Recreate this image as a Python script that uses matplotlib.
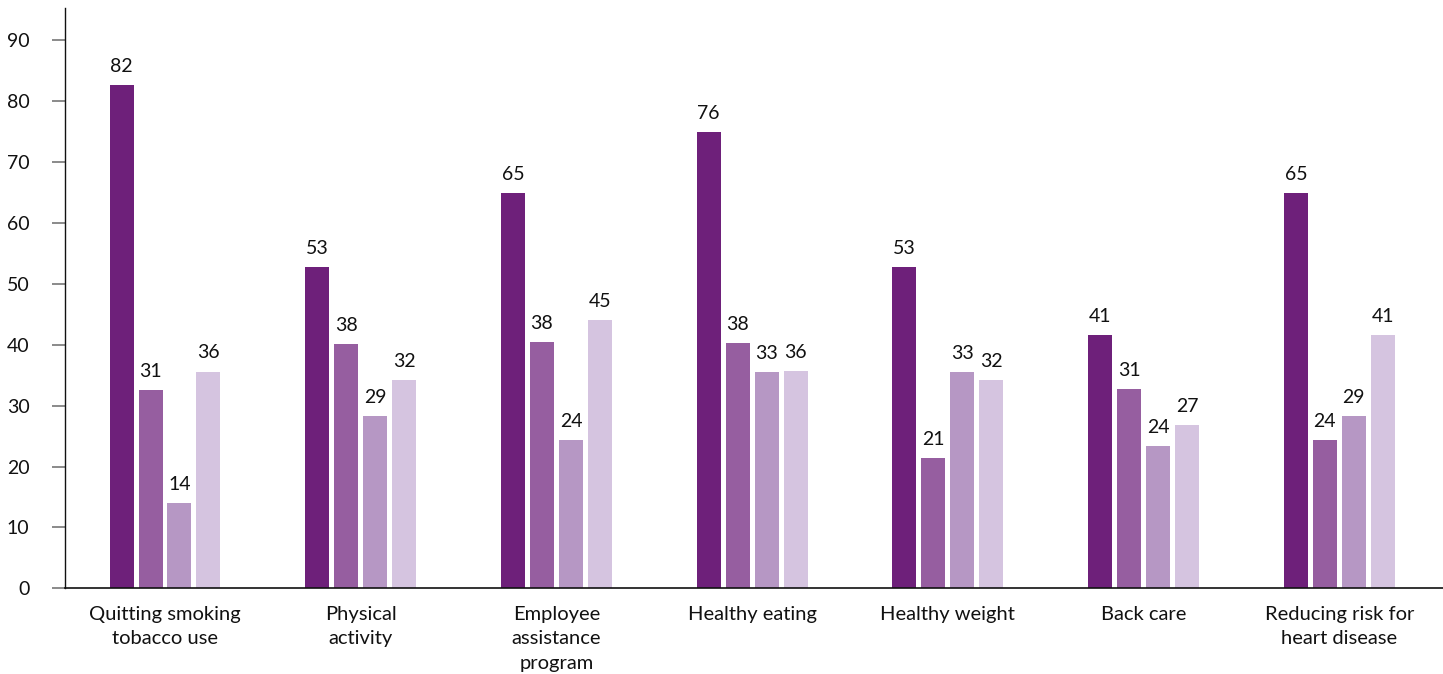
import matplotlib
matplotlib.use("Agg")
import matplotlib.pyplot as plt
import numpy as np

plt.rcParams['font.family'] = ['Lato', 'DejaVu Sans']

categories = ["Quitting smoking\ntobacco use", "Physical\nactivity", "Employee\nassistance\nprogram",
              "Healthy eating", "Healthy weight", "Back care", "Reducing risk for\nheart disease"]

# bar heights as drawn
series1 = [82.6, 52.8, 64.9, 74.9, 52.8, 41.6, 64.9]
series2 = [32.6, 40.1, 40.4, 40.3, 21.4, 32.7, 24.4]
series3 = [14.0, 28.3, 24.4, 35.5, 35.5, 23.4, 28.3]
series4 = [35.6, 34.2, 44.1, 35.7, 34.2, 26.8, 41.6]

# printed value labels
labels1 = ["82", "53", "65", "76", "53", "41", "65"]
labels2 = ["31", "38", "38", "38", "21", "31", "24"]
labels3 = ["14", "29", "24", "33", "33", "24", "29"]
labels4 = ["36", "32", "45", "36", "32", "27", "41"]

yticks = [0, 10, 20, 30, 40, 50, 60, 70, 80, 90]

colors = ["#6E207A", "#965EA0", "#B697C4", "#D5C4E0"]

fig = plt.figure(figsize=(14.43, 6.74), dpi=100)
ax = fig.add_axes([65/1443, (674-588.3)/674, (1443-65)/1443, 580.3/674])

x = np.arange(len(categories))
step = 0.148
width = 0.1227
all_series = [series1, series2, series3, series4]
all_labels = [labels1, labels2, labels3, labels4]
for i, (vals, labs) in enumerate(zip(all_series, all_labels)):
    pos = x + (i - 1.5) * step
    ax.bar(pos, vals, width=width, color=colors[i], zorder=2)
    for px, v, t in zip(pos, vals, labs):
        ax.annotate(t, (px, v), xytext=(0, 9.5), textcoords="offset points",
                    ha="center", va="baseline", fontsize=14, color="#111111")

ax.set_xlim(-0.511, 6.53)
ax.set_ylim(0, 95.3)
ax.set_yticks(yticks)
ax.set_yticklabels([str(t) for t in yticks], fontsize=14, color="#111111")
ax.set_xticks(x)
ax.set_xticklabels(categories, fontsize=14.5, color="#111111", linespacing=1.53, va="top")
ax.tick_params(axis="x", length=0, pad=12.5)
ax.tick_params(axis="y", length=9.5, width=1.2, color="#777777", pad=16)
ax.spines["top"].set_visible(False)
ax.spines["right"].set_visible(False)
ax.spines["left"].set_linewidth(1.0)
ax.spines["bottom"].set_linewidth(1.2)
ax.spines["left"].set_color("#111111")
ax.spines["bottom"].set_color("#111111")

fig.savefig("out.png", dpi=100)
